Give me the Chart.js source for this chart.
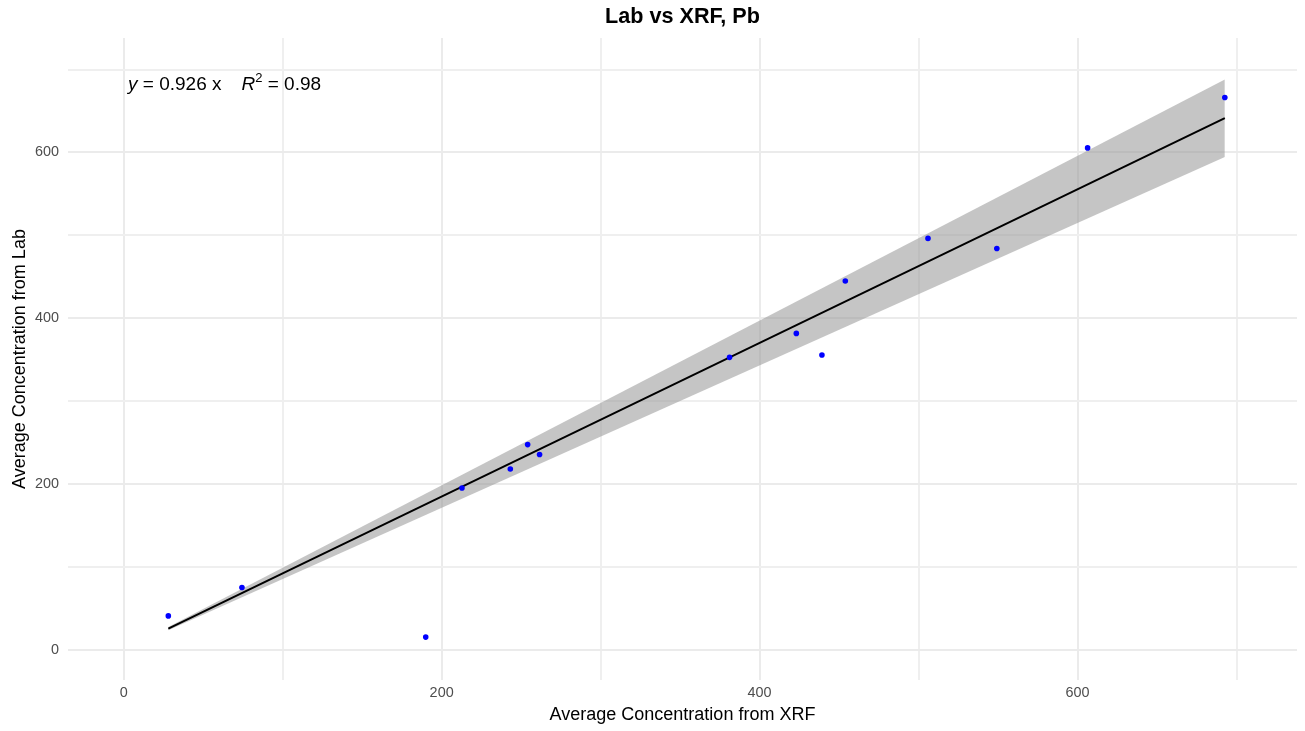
<!DOCTYPE html>
<html>
<head>
<meta charset="utf-8">
<script src="https://cdn.jsdelivr.net/npm/chart.js@4.4.1/dist/chart.umd.min.js"></script>
<style>
  html, body { margin: 0; padding: 0; background: #fff; }
</style>
</head>
<body>
<canvas id="labXrf" width="1305" height="731"></canvas>
<script>
const xrf = [28.1, 74.4, 190.0, 212.8, 243.2, 254.1, 261.6, 381.1, 423.1, 439.2, 453.9, 505.9, 549.2, 606.3, 692.6]
const lab = [41.3, 75.5, 15.7, 195.5, 218.4, 247.8, 235.8, 353.0, 381.9, 355.8, 445.0, 496.4, 484.3, 605.5, 666.3]

// fitted line (through origin) and its confidence band, at the ends of the data
const fitX = [28.1, 692.6]
const fitY = [26.0, 641.4]
const bandUpper = [27.9, 688.0]
const bandLower = [24.1, 594.6]

const slopeLabel = '0.926'
const r2Label = '0.98'

const FONT = "'Liberation Sans', Arial, Helvetica, sans-serif"

const toPoints = (xs, ys) => xs.map((x, i) => ({ x: x, y: ys[i] }))

// draws "y = 0.926 x   R² = 0.98" like stat_poly_eq
const eqLabel = {
  id: 'eqLabel',
  afterDatasetsDraw(chart) {
    const ctx = chart.ctx
    const area = chart.chartArea
    let x = area.left + 60
    const y = area.top + 52
    ctx.save()
    ctx.fillStyle = '#000'
    ctx.textBaseline = 'alphabetic'
    ctx.textAlign = 'left'
    const put = (txt, font, dy) => {
      ctx.font = font
      ctx.fillText(txt, x, y + (dy || 0))
      x += ctx.measureText(txt).width
    }
    put('y', 'italic 19px ' + FONT)
    put(' = ' + slopeLabel + ' x', '19px ' + FONT)
    x += 20
    put('R', 'italic 19px ' + FONT)
    put('2', '13px ' + FONT, -8)
    put(' = ' + r2Label, '19px ' + FONT)
    ctx.restore()
  }
}

const gridColor = c => (c.tick && c.tick.value % 200 === 0) ? '#ebebeb' : '#efefef'
const tickLabel = v => (v % 200 === 0 ? v : '')

const config = {
  type: 'scatter',
  data: {
    datasets: [
      {
        data: toPoints(xrf, lab),
        backgroundColor: '#0000ff',
        borderWidth: 0,
        pointRadius: 2.8
      },
      {
        data: toPoints(fitX, fitY),
        showLine: true,
        borderColor: '#000',
        borderWidth: 2,
        pointRadius: 0,
        fill: false
      },
      {
        data: toPoints(fitX, bandUpper),
        showLine: true,
        borderWidth: 0,
        borderColor: 'rgba(0,0,0,0)',
        pointRadius: 0,
        backgroundColor: 'rgba(150,150,150,0.55)',
        fill: '+1'
      },
      {
        data: toPoints(fitX, bandLower),
        showLine: true,
        borderWidth: 0,
        borderColor: 'rgba(0,0,0,0)',
        pointRadius: 0,
        fill: false
      }
    ]
  },
  options: {
    responsive: false,
    animation: false,
    layout: { padding: { left: 0, right: 8, top: 0, bottom: 0 } },
    plugins: {
      legend: { display: false },
      tooltip: { enabled: false },
      title: {
        display: true,
        fullSize: false,
        text: 'Lab vs XRF, Pb',
        color: '#000',
        font: { family: FONT, size: 21.6, weight: 'bold', lineHeight: 1.2 },
        padding: { top: 4.5, bottom: 7.6 }
      }
    },
    scales: {
      x: {
        type: 'linear',
        min: -35,
        max: 738,
        border: { display: false },
        grid: { color: gridColor, lineWidth: 2, drawTicks: false },
        ticks: {
          stepSize: 100,
          includeBounds: false,
          autoSkip: false,
          maxRotation: 0,
          padding: 4,
          color: '#4d4d4d',
          font: { family: FONT, size: 14.4 },
          callback: tickLabel
        },
        title: {
          display: true,
          text: 'Average Concentration from XRF',
          color: '#000',
          font: { family: FONT, size: 18 },
          padding: { top: 0, bottom: 5 }
        },
        afterFit(scale) { scale.height = 51 }
      },
      y: {
        type: 'linear',
        min: -36,
        max: 738,
        border: { display: false },
        grid: { color: gridColor, lineWidth: 2, drawTicks: false },
        ticks: {
          stepSize: 100,
          includeBounds: false,
          autoSkip: false,
          padding: 9,
          color: '#4d4d4d',
          font: { family: FONT, size: 14.4 },
          callback: tickLabel
        },
        title: {
          display: true,
          text: 'Average Concentration from Lab',
          color: '#000',
          font: { family: FONT, size: 18 },
          padding: { top: 9, bottom: 0 }
        },
        afterFit(scale) { scale.width = 68 }
      }
    }
  },
  plugins: [eqLabel]
}

const labXrf = new Chart(document.getElementById('labXrf'), config)
</script>
</body>
</html>
